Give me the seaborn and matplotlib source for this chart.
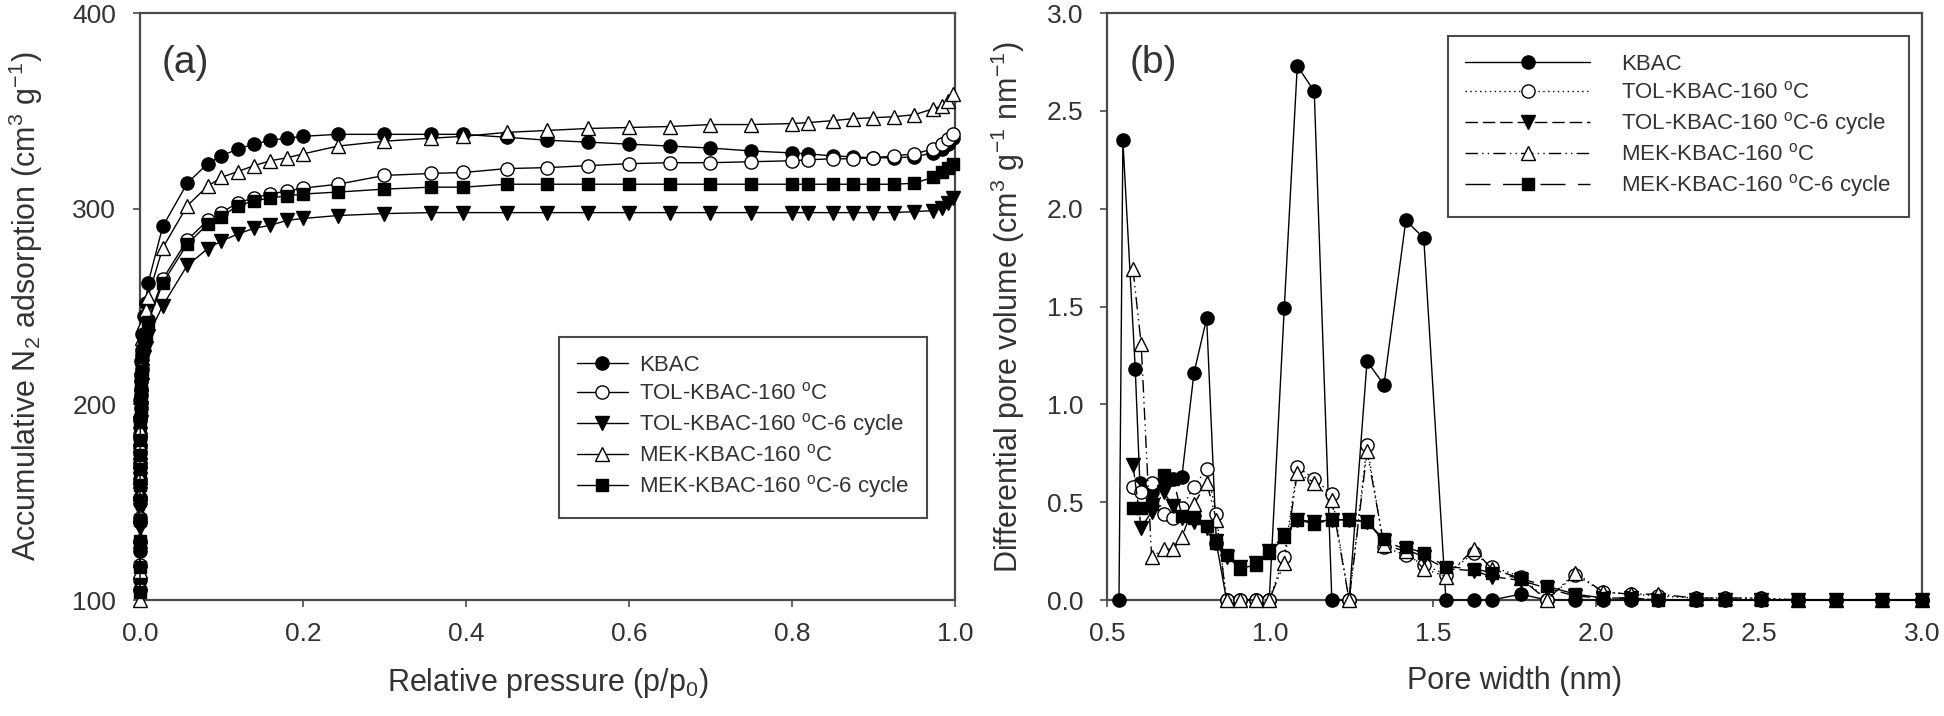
"""
N2 adsorption isotherms (a) and pore size distributions (b)
"""

import numpy as np
import pandas as pd
import matplotlib
matplotlib.use("Agg")
import matplotlib.pyplot as plt
import seaborn as sns

sns.set_style("ticks")
plt.rcParams['font.family'] = ['Liberation Sans', 'DejaVu Sans']
plt.rcParams['mathtext.fontset'] = 'custom'
plt.rcParams['mathtext.rm'] = 'Liberation Sans'
plt.rcParams['mathtext.it'] = 'Liberation Sans:italic'
plt.rcParams['mathtext.default'] = 'rm'
plt.rcParams['text.color'] = '#333333'
plt.rcParams['axes.labelcolor'] = '#333333'
plt.rcParams['xtick.color'] = '#333333'
plt.rcParams['ytick.color'] = '#333333'

# sample names
labels = ['KBAC', 'TOL-KBAC-160 $^o$C', 'TOL-KBAC-160 $^o$C-6 cycle',
          'MEK-KBAC-160 $^o$C', 'MEK-KBAC-160 $^o$C-6 cycle']

# (a) isotherms, relative pressure p/p0
p_rel = [0.000005, 0.00001, 0.00002, 0.00004, 0.00007, 0.0001, 0.00015, 0.0002,
         0.0003, 0.0005, 0.0007, 0.001, 0.0015, 0.002, 0.003, 0.005, 0.007, 0.01,
         0.028, 0.058, 0.083, 0.1, 0.12, 0.14, 0.16, 0.18, 0.2, 0.243, 0.3, 0.357,
         0.397, 0.45, 0.5, 0.55, 0.6, 0.65, 0.7, 0.75, 0.8, 0.82, 0.85, 0.875,
         0.9, 0.925, 0.95, 0.973, 0.984, 0.992, 0.998]
ads_kbac = [110, 125, 140, 152, 162, 170, 178, 185, 193, 202, 208, 215, 222, 228, 236, 245, 252, 262,
            291, 313, 323, 327, 330.5, 333, 335, 336, 337, 338, 338, 338, 338,
            336.5, 335, 334, 333, 332, 331, 329.5, 328.5, 328,
            327, 326.5, 326, 326, 326.5, 328.5, 330.5, 333, 336]
ads_tol = [105, 118, 130, 142, 152, 160, 168, 175, 183, 192, 198, 205, 212, 218, 225, 232, 237, 243,
           264, 284, 294, 298, 303, 305.5, 307.5, 309, 310.5, 312.5, 317, 318, 318.5,
           320.5, 321, 322, 323, 323.5, 323.5, 324, 324.5, 325,
           325.5, 325.5, 326, 327, 328, 330.5, 333, 335.5, 338]
ads_tol_cyc = [102, 114, 126, 137, 146, 154, 162, 169, 176, 185, 191, 198, 204, 210, 217, 224, 229, 235,
               250.5, 271, 279.5, 283.5, 287, 290, 291.5, 294, 295, 296.5, 297.5, 298, 298,
               298, 298, 298, 298, 298, 298, 298, 298, 298,
               298, 298, 298, 298, 298.5, 299, 300.5, 303, 305.5]
ads_mek = [100, 115, 130, 143, 154, 163, 171, 179, 187, 197, 204, 211, 219, 226, 234, 242, 248, 255,
           280, 301.5, 311.5, 316, 319, 322, 324.5, 326, 328, 332, 334.5, 336, 337,
           339, 340, 341, 341.5, 342, 343, 343, 343.5, 344,
           345, 346, 346.5, 347, 348, 351, 352.5, 355, 358.5]
ads_mek_cyc = [104, 117, 130, 141, 151, 159, 167, 174, 182, 191, 197, 204, 211, 217, 224, 231, 236, 242,
               262, 282, 292, 296, 301.5, 304, 305.5, 306.5, 307.5, 308.5, 310, 311, 311,
               312.5, 312.5, 312.5, 312.5, 312.5, 312.5, 312.5, 312.5, 312.5,
               312.5, 312.5, 312.5, 312.5, 313, 316, 318.5, 321, 323]

# (b) pore size distribution, pore width in nm
width_kbac = [0.537, 0.549, 0.587, 0.601, 0.637, 0.674, 0.704, 0.73, 0.767, 0.806, 0.836, 0.867,
              0.907, 0.958, 0.998, 1.044, 1.084, 1.136, 1.19, 1.243, 1.298, 1.35, 1.417, 1.472,
              1.54, 1.625, 1.68, 1.77, 1.85, 1.937, 2.023, 2.109, 2.19, 2.307, 2.396, 2.506,
              2.619, 2.736, 2.879, 3.0]
width_mod = [0.58, 0.605, 0.637, 0.674, 0.704, 0.73, 0.767, 0.806, 0.836, 0.867,
             0.907, 0.958, 0.998, 1.044, 1.084, 1.136, 1.19, 1.243, 1.298, 1.35, 1.417, 1.472,
             1.54, 1.625, 1.68, 1.77, 1.85, 1.937, 2.023, 2.109, 2.19, 2.307, 2.396, 2.506,
             2.619, 2.736, 2.879, 3.0]
psd_kbac = [0, 2.35, 1.18, 0.60, 0.55, 0.60, 0.62, 0.63, 1.16, 1.44, 0.29, 0,
            0, 0, 0, 1.49, 2.73, 2.60, 0, 0, 1.22, 1.10, 1.94, 1.85,
            0, 0, 0, 0.03, 0, 0, 0, 0, 0, 0, 0, 0,
            0, 0, 0, 0]
psd_tol = [0.58, 0.55, 0.60, 0.44, 0.42, 0.47, 0.58, 0.67, 0.44, 0,
           0, 0, 0, 0.22, 0.68, 0.62, 0.54, 0, 0.79, 0.27, 0.23, 0.18,
           0.13, 0.24, 0.17, 0.12, 0, 0.13, 0.04, 0.03, 0.02, 0.01, 0.01, 0.01,
           0, 0, 0, 0]
psd_tol_cyc = [0.69, 0.37, 0.45, 0.55, 0.48, 0.42, 0.40, 0.37, 0.30, 0.22,
               0.17, 0.19, 0.25, 0.33, 0.41, 0.40, 0.41, 0.41, 0.40, 0.30, 0.26, 0.22,
               0.16, 0.15, 0.12, 0.10, 0.06, 0.02, 0.01, 0.01, 0, 0, 0, 0,
               0, 0, 0, 0]
psd_mek = [1.69, 1.31, 0.22, 0.26, 0.26, 0.32, 0.49, 0.60, 0.41, 0,
           0, 0, 0, 0.19, 0.65, 0.60, 0.51, 0, 0.76, 0.28, 0.25, 0.16,
           0.12, 0.26, 0.16, 0.11, 0, 0.14, 0.04, 0.03, 0.03, 0.01, 0.01, 0.01,
           0, 0, 0, 0]
psd_mek_cyc = [0.47, 0.47, 0.49, 0.64, 0.62, 0.43, 0.42, 0.38, 0.29, 0.23,
               0.16, 0.18, 0.24, 0.32, 0.41, 0.39, 0.41, 0.41, 0.40, 0.31, 0.27, 0.24,
               0.17, 0.16, 0.14, 0.11, 0.07, 0.03, 0.01, 0.01, 0, 0, 0, 0,
               0, 0, 0, 0]

iso = pd.DataFrame({'p': p_rel, labels[0]: ads_kbac, labels[1]: ads_tol,
                    labels[2]: ads_tol_cyc, labels[3]: ads_mek, labels[4]: ads_mek_cyc})
psd = [(width_kbac, psd_kbac), (width_mod, psd_tol), (width_mod, psd_tol_cyc),
       (width_mod, psd_mek), (width_mod, psd_mek_cyc)]

markers = ['o', 'o', 'v', '^', 's']
faces = ['black', 'white', 'black', 'white', 'black']
msizes = [9.5, 9.5, 9.5, 10, 8.5]
dashes_b = ['-', (0, (1, 2.5)), (0, (9, 3.5)), (0, (9, 3, 1, 3, 1, 3)), (0, (18, 9))]

fig = plt.figure(figsize=(19.44, 7.16), dpi=100)
ax_a = fig.add_axes([0.072, 0.162, 0.4192, 0.8198])
ax_b = fig.add_axes([0.5694, 0.162, 0.4192, 0.8198])

# panel a
for i, lab in enumerate(labels):
    sns.lineplot(x=iso['p'].values, y=iso[lab].values, ax=ax_a, color='black',
                 linewidth=1.0, marker=markers[i], markersize=msizes[i],
                 markerfacecolor=faces[i], markeredgecolor='black', markeredgewidth=1.0,
                 estimator=None, sort=False, label=lab, legend=False,
                 clip_on=False, zorder=3)

# panel b
for i, lab in enumerate(labels):
    xw, yv = psd[i]
    sns.lineplot(x=xw, y=yv, ax=ax_b, color='black', linewidth=1.0,
                 linestyle=dashes_b[i], marker=markers[i], markersize=msizes[i],
                 markerfacecolor=faces[i], markeredgecolor='black', markeredgewidth=1.0,
                 estimator=None, sort=False, label=lab, legend=False,
                 clip_on=False, zorder=3)

ax_a.set_xlim(0, 1.0)
ax_a.set_ylim(100, 400)
ax_a.set_xticks(np.arange(0, 1.01, 0.2))
ax_a.set_yticks([100, 200, 300, 400])
ax_a.set_xticklabels(['0.0', '0.2', '0.4', '0.6', '0.8', '1.0'])

ax_b.set_xlim(0.5, 3.0)
ax_b.set_ylim(0, 3.0)
ax_b.set_xticks(np.arange(0.5, 3.01, 0.5))
ax_b.set_yticks(np.arange(0, 3.01, 0.5))
ax_b.set_xticklabels(['0.5', '1.0', '1.5', '2.0', '2.5', '3.0'])
ax_b.set_yticklabels(['0.0', '0.5', '1.0', '1.5', '2.0', '2.5', '3.0'])

for ax in (ax_a, ax_b):
    for sp in ax.spines.values():
        sp.set_visible(True)
        sp.set_color('#4a4a4a')
        sp.set_linewidth(1.6)
    ax.tick_params(axis='both', direction='out', length=5, width=1.2,
                   color='#4a4a4a', labelsize=19)
    ax.tick_params(axis='x', pad=11)
    ax.tick_params(axis='y', pad=12)

ax_a.set_xlabel('Relative pressure (p/p$_0$)', fontsize=22, labelpad=14)
ax_a.set_ylabel('Accumulative N$_2$ adsorption (cm$^3$ g$^{-1}$)', fontsize=22, labelpad=20)
ax_b.set_xlabel('Pore width (nm)', fontsize=22, labelpad=14)
ax_b.set_ylabel('Differential pore volume (cm$^3$ g$^{-1}$ nm$^{-1}$)', fontsize=22, labelpad=14)

ax_a.text(0.056, 0.915, '(a)', transform=ax_a.transAxes, fontsize=28,
          ha='center', va='center')
ax_b.text(0.057, 0.915, '(b)', transform=ax_b.transAxes, fontsize=28,
          ha='center', va='center')

leg_a = ax_a.legend(loc='upper left', bbox_to_anchor=(0.514, 0.448), borderaxespad=0,
                    fontsize=16, handlelength=2.3, handletextpad=0.5, labelspacing=0.3,
                    borderpad=0.8, fancybox=False, framealpha=1, edgecolor='#4a4a4a')
leg_a.get_frame().set_linewidth(1.5)
leg_b = ax_b.legend(loc='upper left', bbox_to_anchor=(0.418, 0.961), borderaxespad=0,
                    fontsize=16, handlelength=5.6, handletextpad=1.4, labelspacing=0.3,
                    borderpad=0.8, fancybox=False, framealpha=1, edgecolor='#4a4a4a')
leg_b.get_frame().set_linewidth(1.5)

fig.savefig("out.png", dpi=100)
